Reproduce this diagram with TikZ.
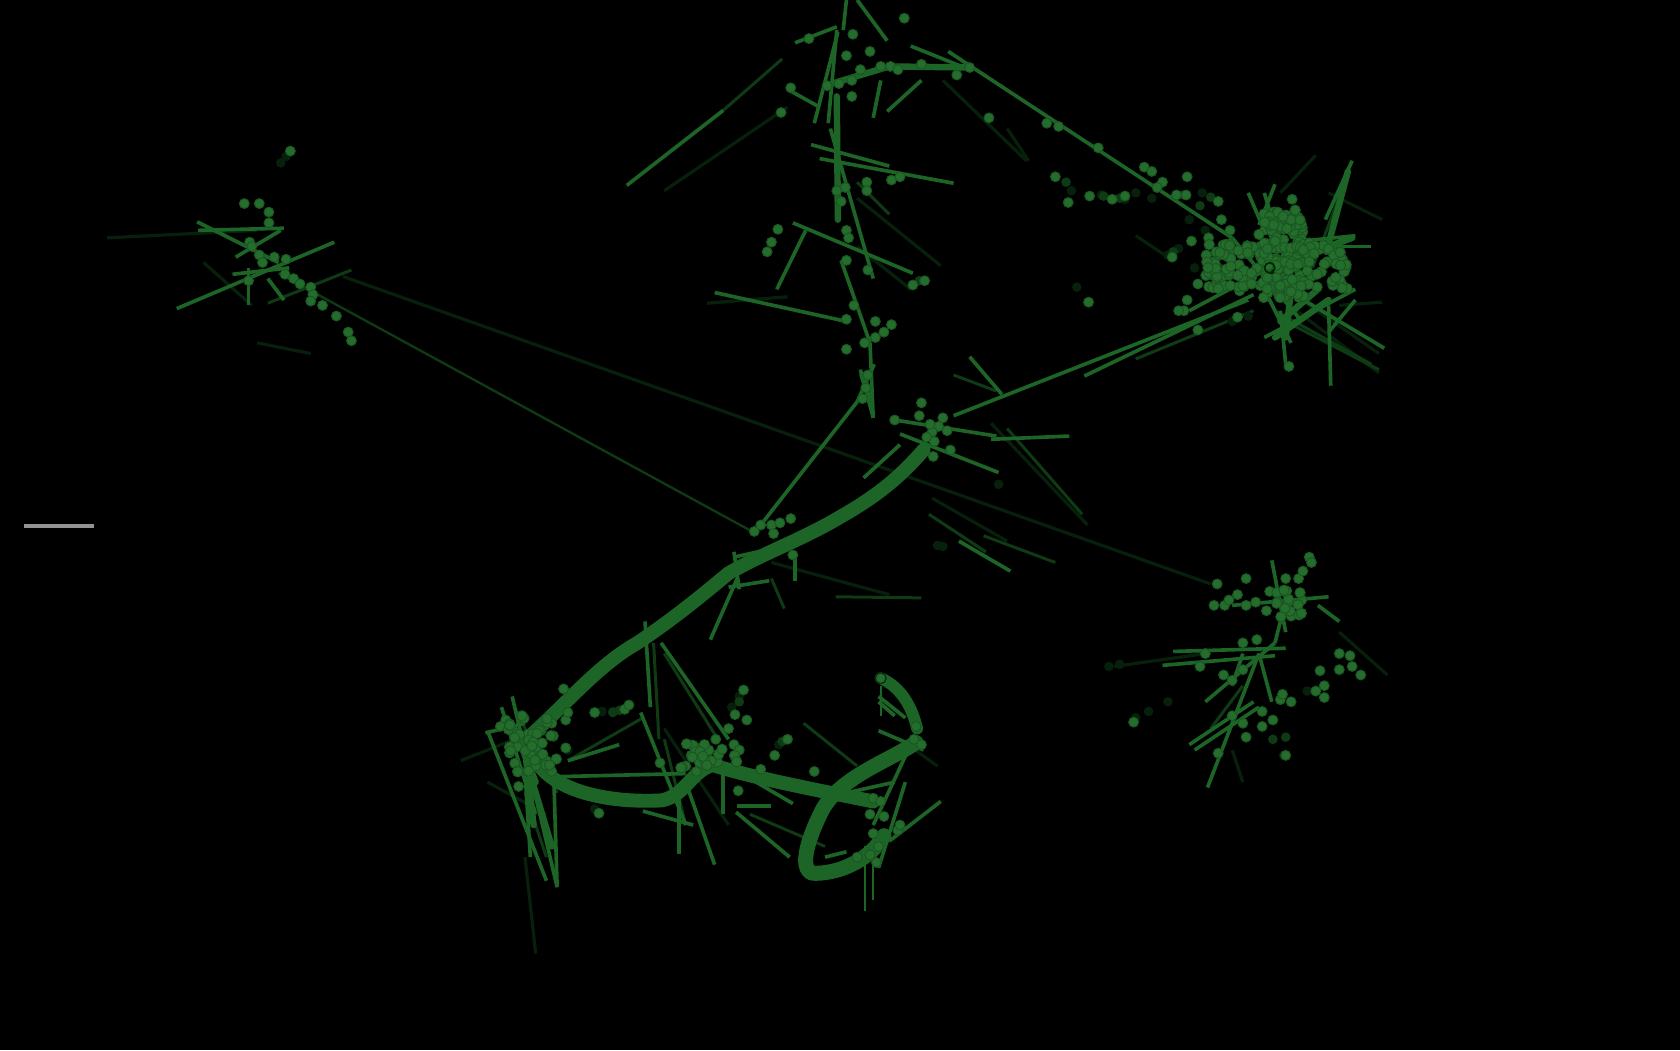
\documentclass[tikz,border=0pt]{standalone}
\definecolor{strandgreen}{HTML}{1C6526}
\definecolor{dotgreen}{HTML}{256D2D}
\definecolor{rimgreen}{HTML}{1A5722}
\definecolor{dimgreen}{HTML}{0E3A14}
\definecolor{faintgreen}{HTML}{07200B}
\begin{document}
\begin{tikzpicture}[x=1pt, y=-1pt,
  spike/.style={strandgreen, line width=3.4pt},
  thinspike/.style={strandgreen, line width=2pt},
  heavyspike/.style={strandgreen, line width=6pt, line cap=round},
  dimspike/.style={dimgreen, line width=2.8pt},
  faintspike/.style={faintgreen, line width=3pt},
  longstrand/.style={dimgreen, line width=2.2pt},
  ribbon/.style={strandgreen, line cap=round, line join=round},
  blob/.style={fill=dotgreen, draw=rimgreen, line width=0.9pt},
  dimblob/.style={fill=dimgreen},
  faintblob/.style={fill=faintgreen}]

  \fill[black] (0,0) rectangle (1568,980);
  \useasboundingbox (0,0) rectangle (1568,980);

  \draw[gray!85, line width=3pt] (22,491) -- (88,491);

  % faint strands under everything
  \foreach \xa/\ya/\xb/\yb in {320/258/1130/545, 100/222/240/215, 620/178/735/100, 190/245/235/285,
      925/395/1015/490, 800/185/878/248, 880/75/958/150, 1210/290/1287/348, 1215/280/1287/330,
      1240/180/1290/205, 1250/285/1290/282, 490/800/500/890, 455/730/510/760, 430/710/480/690,
      620/680/680/770, 1195/180/1228/145, 1125/610/1040/622, 1150/700/1160/730, 720/525/830/555,
      840/690/875/715, 870/465/940/505, 660/283/735/277, 240/320/290/330, 800/230/850/270,
      1250/590/1295/630, 940/120/960/150, 1060/220/1090/240}
    \draw[faintspike] (\xa,\ya) -- (\xb,\yb);

  \draw[longstrand] (260,255) -- (700,495);
  \foreach \xa/\ya/\xb/\yb in {250/283/328/252, 867/480/920/515, 918/500/985/525,
      890/350/930/365, 675/103/730/55, 800/170/830/200, 1200/300/1287/345, 1170/290/1060/335,
      720/540/732/568, 780/557/860/558, 530/710/600/670, 750/675/800/715, 940/400/1010/480,
      700/760/770/790, 490/740/510/800, 620/690/640/770, 1130/680/1160/640, 1255/170/1225/250,
      480/660/520/740, 610/600/615/690, 620/610/670/690, 1190/290/1280/340}
    \draw[dimspike] (\xa,\ya) -- (\xb,\yb);

  % main bundles
  \draw[ribbon, line width=13pt] (862,420) .. controls (840,445) and (820,462) .. (785,482)
    .. controls (750,503) and (715,515) .. (680,535) .. controls (650,560) and (625,580) .. (595,600)
    .. controls (560,620) and (535,650) .. (497,685);
  \draw[ribbon, line width=13pt] (498,705) .. controls (510,735) and (560,750) .. (618,747)
    .. controls (640,742) and (645,720) .. (665,714) .. controls (700,725) and (750,735) .. (815,748);
  \draw[ribbon, line width=14pt] (855,693) .. controls (830,710) and (785,725) .. (768,755)
    .. controls (755,780) and (745,810) .. (758,815) .. controls (780,816) and (810,805) .. (825,780);
  \draw[ribbon, line width=11pt] (822,633) .. controls (838,640) and (850,655) .. (856,680);

  % bright spikes
  \foreach \xa/\ya/\xb/\yb in {585/173/675/103, 781/28/773/115, 790/0/787/28, 800/0/828/38, 742/40/781/25,
      885/48/1150/222, 850/43/905/65, 815/110/822/75, 860/75/828/104,
      738/85/765/100, 760/115/782/30, 775/120/815/260, 765/148/890/171, 757/135/830/155,
      740/208/852/255, 725/270/752/215, 785/243/812/320, 812/320/815/390, 667/273/790/300,
      800/375/710/490, 816/340/800/375, 803/345/815/390, 890/388/1165/280, 1012/351/1170/275,
      905/333/935/368, 835/392/930/407, 925/410/998/407, 840/405/932/441, 806/446/840/415, 895/505/943/533,
      184/207/260/245, 165/288/312/226, 217/256/270/250, 232/250/232/285, 185/215/265/213, 220/240/262/215,
      250/260/265/280,
      1187/523/1200/590, 1150/565/1240/557, 1095/608/1200/605, 1085/621/1190/612, 1125/655/1190/600,
      1127/735/1175/610, 1110/695/1170/655, 1115/700/1175/660, 1175/610/1187/655, 1230/565/1250/580,
      1200/560/1190/600, 1160/610/1150/640,
      1240/285/1242/360, 1200/270/1292/325, 1180/180/1195/230, 1190/172/1175/210, 1165/180/1180/215,
      1150/222/1215/300, 1180/315/1265/270, 1200/340/1195/290, 1215/225/1265/220, 1240/310/1265/280,
      1110/290/1185/250, 1237/205/1262/150, 1200/230/1280/230, 1180/270/1205/320,
      455/682/510/822, 478/650/520/828, 517/730/520/828, 490/720/495/800, 468/660/500/760, 453/684/490/675,
      602/580/607/660, 617/600/680/690, 598/665/640/770, 640/730/667/807, 634/740/634/797, 600/757/647/770,
      530/710/578/695, 515/725/640/722, 687/758/737/800, 688/752/720/752, 675/715/675/760, 680/715/740/750,
      820/682/862/700, 878/748/830/785, 845/730/820/810, 835/730/790/740, 850/695/815/770, 820/650/845/670,
      663/597/688/540, 680/548/718/542, 742/515/742/542, 685/515/690/550, 685/520/730/510, 770/800/790/795,
      820/655/835/668}
    \draw[spike] (\xa,\ya) -- (\xb,\yb);
  \foreach \xa/\ya/\xb/\yb in {1258/160/1238/235, 1190/315/1240/280, 1195/300/1230/270, 1205/270/1200/315,
      770/80/830/62, 830/62/905/63, 781/90/782/205, 490/700/498/770, 497/730/515/790, 805/350/812/372,
      1240/230/1262/222, 480/680/500/730}
    \draw[heavyspike] (\xa,\ya) -- (\xb,\yb);
  \foreach \xa/\xb/\yb in {807/790/850, 815/790/840, 822/640/668, 675/715/760}
    \draw[thinspike] (\xa,\xb) -- (\xa,\yb);

  % dim beads
  \foreach \x/\y in {262/152, 267/146, 1000/178, 985/165, 1028/182, 1050/186, 1122/180, 1090/238, 1100/232,
      1005/268, 1015/282, 1060/670, 1072/664, 1090/655, 1035/622, 1045/620, 875/509, 932/452, 1198/705,
      572/664, 562/664, 735/690, 727/695, 555/755, 690/650, 683/660, 530/700, 1150/300, 1165/295, 1220/645,
      880/510, 1110/205, 1125/215, 1060/180, 1075/185, 1130/240, 1115/250}
    \fill[faintblob] (\x,\y) circle (4.5);
  \foreach \x/\y in {1188/690, 1200/688, 572/665, 690/655, 1130/184, 1105/182, 995/170, 858/262, 1138/250,
      1120/192, 1095/235, 1030/183, 1045/185, 578/663, 730/692}
    \fill[dimblob] (\x,\y) circle (4.5);

  % beads on chains and small clusters
  \foreach \x/\y in {271/141, 228/190, 242/190, 251/198, 251/208, 233/226, 242/238, 256/240, 267/242, 232/262,
      266/256, 274/260, 280/265, 290/268, 292/275, 290/281, 301/285, 314/295, 325/310, 328/318, 235/230, 245/245,
      729/105, 738/82, 755/36, 796/32, 812/48, 790/52, 844/17, 795/75, 783/78, 772/80, 803/65, 822/62, 831/62,
      838/65, 860/60, 893/70, 905/63, 795/90, 923/110, 977/115, 988/118, 1025/138, 1068/156, 1075/160, 1085/170,
      1080/175, 1098/182, 1107/182, 1108/165, 1017/183, 1038/186, 1050/183, 997/189, 985/165, 1137/188,
      809/170, 809/178, 832/168, 840/165, 789/175, 781/178, 785/188, 790/215, 792/222, 726/214, 720/226, 716/235,
      790/243, 810/252, 852/266, 863/262, 797/285, 790/298, 817/300, 832/303, 825/310, 817/315, 807/320, 790/326,
      810/350, 808/362, 805/372,
      860/376, 835/392, 858/388, 880/390, 876/398, 870/403, 865/408, 872/412, 884/402, 871/426, 887/420, 868/396,
      704/496, 710/490, 720/490, 728/488, 738/484, 722/498, 740/518,
      1016/282, 1105/290, 1118/308, 1155/296, 1203/342, 1188/270,
      1136/545, 1133/565, 1143/565, 1155/555, 1163/540, 1147/560, 1163/565, 1172/562, 1185/552, 1200/540,
      1212/540, 1216/533, 1222/520, 1224/525, 1182/570, 1200/570, 1215/560, 1205/575, 1198/552, 1160/600,
      1173/597, 1125/610, 1120/622, 1142/630, 1150/635, 1160/625, 1058/674, 1150/668, 1160/675, 1178/678,
      1188/672, 1178/664, 1195/653, 1205/655, 1197/648, 1163/688, 1137/703, 1228/645, 1236/651, 1236/640,
      1232/626, 1250/610, 1260/612, 1250/625, 1262/622, 1270/630, 1200/705,
      526/643, 472/672, 467/678, 483/697, 493/685, 495/700, 505/682, 515/675, 528/672, 528/698, 492/720,
      484/734, 515/720, 510/710, 500/715, 530/665, 555/665, 583/662, 587/658, 559/759,
      694/644, 686/667, 697/672, 680/680, 685/695, 668/690, 654/698, 645/705, 660/700, 640/715, 650/720,
      665/712, 690/700, 735/690, 723/705, 710/718, 616/712, 689/738, 760/720, 815/745, 825/762, 815/778,
      838/775, 820/790, 812/798, 800/800, 818/805, 855/678, 853/690, 860/695, 822/748, 840/770, 812/760,
      1118/265, 1108/280, 1100/290, 1130/250, 1140/205, 1148/215, 1206/186, 1112/225, 1128/222, 1094/240}
    \filldraw[blob] (\x,\y) circle (4.6);

  \pgfmathsetseed{4217}
  \foreach \i in {1,...,150}
    \filldraw[blob] ({1175+rnd*42},{196+rnd*82}) circle (4.8);
  \foreach \i in {1,...,60}
    \filldraw[blob] ({1125+rnd*48},{226+rnd*46}) circle (4.8);
  \foreach \i in {1,...,40}
    \filldraw[blob] ({1210+rnd*48},{225+rnd*45}) circle (4.8);
  \foreach \i in {1,...,36}
    \filldraw[blob] ({474+rnd*46},{668+rnd*56}) circle (4.8);
  \foreach \i in {1,...,20}
    \filldraw[blob] ({635+rnd*55},{690+rnd*28}) circle (4.8);
  \foreach \i in {1,...,14}
    \filldraw[blob] ({1188+rnd*28},{546+rnd*32}) circle (4.8);

  % end markers
  \draw[black!85!green, line width=1.6pt] (1185,250) circle (4.8);
  \draw[rimgreen!50!black, line width=1.2pt, fill=dotgreen] (822,633) circle (5);
\end{tikzpicture}
\end{document}
